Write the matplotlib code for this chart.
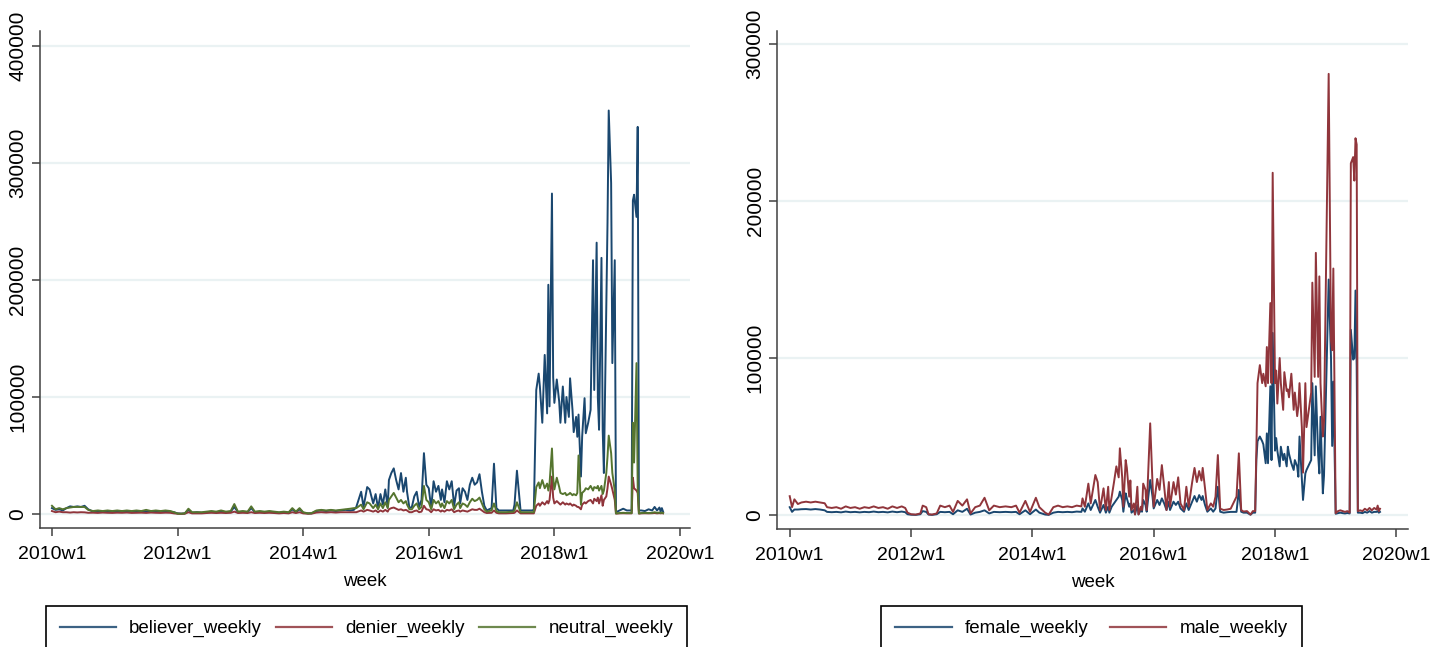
"""
Weekly tweet counts, 2010-2019: by stance (left) and by gender (right).
Stata-style twoway line charts, saved as out.png.
"""

import numpy as np
import matplotlib
matplotlib.use("Agg")
import matplotlib.pyplot as plt
from matplotlib.lines import Line2D

NAVY   = "#1A476F"
MAROON = "#90353B"
GREEN  = "#55752F"
GRID   = "#EAF2F3"
AXIS   = "#404040"

FONT = ["Liberation Sans", "DejaVu Sans"]
TXT  = 13.5   # horizontal text (ticks, axis title, legend)

# week index: 0 = 2010w1, 52 weeks per year (Stata %tw)
WEEK_TICKS  = [0, 104, 208, 312, 416, 520]
WEEK_LABELS = ["2010w1", "2012w1", "2014w1", "2016w1", "2018w1", "2020w1"]

# ---- stance panel (values in thousands) ----
stance_week = [
    0, 3, 6, 9, 12, 15, 18, 21, 24, 27,
    30, 34, 38, 42, 46, 50, 54, 58, 62, 66,
    70, 74, 78, 82, 86, 90, 94, 98, 101, 104,
    107, 110, 113, 116, 120, 124, 128, 132, 136, 140,
    144, 148, 151, 154, 158, 162, 165, 168, 172, 176,
    180, 184, 188, 192, 196, 199, 202, 205, 208, 212,
    215, 219, 223, 227, 231, 235, 239, 243, 247, 250,
    252, 256, 258, 261, 263, 266, 268, 270, 272, 274,
    276, 278, 279, 281, 283, 285, 287, 289, 291, 293,
    294, 296, 298, 300, 302, 304, 306, 308, 310, 312,
    314, 316, 318, 320, 322, 323, 325, 327, 329, 331,
    333, 335, 337, 338, 340, 342, 344, 346, 348, 350,
    352, 354, 356, 358, 360, 364, 366, 368, 370, 376,
    382, 383, 385, 388, 393, 398,
    399, 401, 403, 404, 406, 408, 410, 411, 412, 414,
    415, 416, 418, 420, 421, 423, 425, 426, 428, 429,
    431, 432, 434, 435, 436, 438, 439, 441, 442, 444,
    446, 448, 449, 451, 452, 453, 455, 456, 457, 459,
    460, 461, 463, 464, 466, 467, 470, 473, 476, 480,
    481, 482, 484, 485, 486, 488, 491, 494, 497,
    499, 501, 503, 504, 505, 506,
]
believer = [
    5, 3.5, 4, 3, 5, 6.5, 6, 6.5, 6, 7,
    4, 2, 2.5, 2, 2.5, 2, 2, 2.5, 2, 2,
    2.5, 2, 2, 2.5, 2, 2, 2.5, 2, 1.5, 0.5,
    0.3, 0.5, 3.5, 1, 1.5, 1, 1.5, 2, 1.5, 2,
    1.5, 2, 6, 1.5, 2, 1.5, 5, 1.5, 2, 1.5,
    2, 1.5, 1, 1.5, 1, 4, 1.5, 4, 1, 0.5,
    0.5, 2.5, 3, 2.5, 3, 2.5, 3, 3.5, 3, 3.5,
    6, 19, 6, 23, 21, 9, 17, 5, 17, 8,
    21, 6, 29, 35, 39, 29, 21, 35, 19, 31,
    19, 5, 6, 15, 19, 6, 12, 52, 25, 22,
    5, 28, 19, 24, 12, 21, 10, 28, 21, 28,
    7, 20, 22, 9, 22, 19, 12, 25, 31, 25,
    27, 34, 19, 7, 3, 5, 43, 5, 3, 3,
    3, 8, 37, 3, 3, 3,
    4, 106, 120, 109, 78, 136, 86, 196, 92, 274,
    117, 95, 115, 96, 78, 109, 78, 100, 83, 116,
    89, 70, 83, 66, 85, 32, 66, 99, 69, 78,
    89, 217, 106, 232, 99, 72, 219, 72, 35, 177,
    249, 345, 283, 129, 217, 1.5, 3, 4.5, 3, 3,
    268, 273, 254, 331, 3, 3, 2.5, 4, 3,
    6, 3, 5.5, 2, 5, 2,
]
denier = [
    2.5, 1.5, 2, 1.5, 1.5, 1.2, 1.5, 1.3, 1.5, 1.4,
    1, 1.1, 0.9, 1.2, 1, 0.9, 1.1, 1, 1.2, 0.9,
    1, 1.1, 0.9, 1.2, 1, 0.9, 1.1, 1, 0.5, 0.2,
    0.1, 0.2, 1.5, 0.5, 0.5, 0.5, 0.8, 1, 0.8, 1,
    0.8, 1, 2, 0.8, 1, 0.8, 1.5, 0.8, 1, 0.8,
    1, 0.8, 0.5, 0.8, 0.5, 1.5, 0.8, 1.5, 0.5, 0.2,
    0.3, 1.2, 1.5, 1.2, 1.5, 1.2, 1.5, 1.5, 1.5, 1.5,
    1.5, 3, 2, 3.5, 3, 2, 3, 1.5, 3, 2,
    3.5, 2, 4, 5, 5.5, 4.5, 3.5, 4, 3, 3.5,
    3, 1.5, 1.5, 2.5, 3, 1.5, 2, 7, 4, 3.5,
    1.5, 4, 3, 3.5, 2, 3, 2, 3.5, 3, 4,
    1.5, 2.5, 3, 2, 3, 2.5, 2, 3, 4, 3.5,
    3.5, 4.5, 3, 1.5, 0.8, 1, 3, 1, 0.5, 0.5,
    0.8, 1, 3, 0.5, 0.5, 0.5,
    0.5, 7, 9, 7, 10, 8, 11, 9, 12, 32,
    14, 9, 11, 9, 8, 10, 8, 9, 8, 9,
    7, 8, 7, 6, 6, 4, 8, 10, 9, 11,
    12, 9, 13, 11, 14, 9, 16, 7, 12, 15,
    22, 32, 25, 21, 12, 0.3, 0.5, 0.6, 0.5, 0.5,
    31, 22, 20, 18, 0.3, 0.5, 0.6, 0.5, 0.6,
    0.8, 0.5, 0.7, 0.5, 0.7, 0.5,
]
neutral = [
    7, 4, 5, 4, 5, 5.5, 6, 6, 6, 6,
    3.5, 2.5, 3, 2.5, 3, 2.5, 3, 2.5, 3, 2.5,
    3, 2.5, 3.5, 2.5, 3, 2.5, 3, 2.5, 1.5, 0.3,
    0.2, 0.5, 4.5, 1.5, 1.5, 1.5, 2, 2.5, 2, 3,
    2, 2.5, 8.5, 2, 2.5, 2, 6.5, 2, 2.5, 2,
    2.5, 2, 1.5, 2, 1.5, 5, 2, 5, 1.5, 0.5,
    0.8, 3, 3.5, 3, 3.5, 3, 3.5, 4, 4.5, 5,
    5, 8, 4, 10, 9, 5, 8, 4, 9, 5,
    10, 5, 12, 15, 18, 14, 10, 12, 9, 11,
    8, 4, 4, 7, 9, 4, 6, 24, 12, 10,
    4, 12, 9, 11, 6, 9, 5, 11, 9, 12,
    4, 8, 10, 5, 9, 8, 6, 10, 13, 11,
    12, 14, 9, 4, 2, 3, 9, 2.5, 1.5, 1.5,
    2, 3, 10, 1.5, 1.5, 1.5,
    1.5, 23, 27, 22, 29, 22, 26, 20, 26, 56,
    31, 21, 31, 23, 18, 17, 18, 16, 17, 18,
    16, 17, 16, 18, 50, 8, 18, 20, 22, 21,
    24, 20, 23, 22, 24, 20, 24, 17, 20, 35,
    49, 67, 52, 35, 20, 0.5, 0.8, 1, 0.8, 0.8,
    78, 44, 129, 22, 0.5, 0.8, 1, 0.8, 1,
    1.5, 1, 1.2, 0.8, 1.2, 0.8,
]

# ---- gender panel (values in thousands) ----
gender_week = [
    0, 2, 4, 7, 10, 14, 18, 22, 26, 30,
    32, 36, 40, 44, 48, 52, 56, 60, 64, 68,
    72, 76, 80, 84, 88, 92, 96, 99, 101, 104,
    108, 112, 114, 117, 119, 122, 126, 129, 133, 137,
    140, 144, 148, 152, 155, 159, 163, 167, 171, 175,
    180, 185, 190, 194, 197, 202, 206, 211, 214, 219,
    222, 226, 230, 234, 238, 242, 246, 250,
    251, 253, 256, 258, 262, 264, 266, 269, 271, 273,
    274, 276, 278, 280, 282, 283, 285, 286, 288, 289,
    291, 292, 293, 295, 296, 298, 299, 301, 302, 303,
    305, 306, 309, 311, 312, 315, 317, 319, 321, 323,
    325, 326, 329, 331, 333, 335, 338, 340, 342, 345,
    347, 349, 351, 353, 354, 356, 358, 361, 363, 365,
    367, 369, 372, 375, 378,
    383, 385, 387, 389, 392, 395, 397, 399, 400, 401,
    403, 405, 406, 408, 409, 410, 412, 413, 414, 416,
    417, 418, 420, 421, 423, 424, 426, 427, 428, 430,
    432, 433, 435, 436, 437, 439, 440, 442, 443, 445,
    447, 448, 450, 451, 453, 454, 455, 457, 458, 462,
    464, 465, 466, 468, 470, 472, 474, 476, 478, 480,
    481, 483, 484, 485, 486, 487, 489, 491, 493, 495,
    497, 499, 501, 503, 504, 505, 506,
]
female = [
    5, 2, 3.5, 3.5, 3.7, 3.8, 3.5, 3.8, 3.5, 3,
    2, 1.8, 2, 1.7, 2.2, 1.8, 2, 1.7, 2, 1.8,
    2.2, 1.8, 2, 1.7, 2.2, 1.8, 2.2, 1.8, 0.5, 0.2,
    0.1, 0.5, 2.5, 2, 0.3, 0.1, 0.5, 2, 1.8, 2,
    0.5, 3, 2, 4, 0.3, 1.5, 2, 3, 1, 2,
    1.8, 2, 1.8, 2, 0.5, 3, 0.5, 3.5, 1.5, 0.3,
    0.1, 1.5, 2, 1.8, 2, 1.8, 2.2, 2,
    4.2, 2.1, 7.4, 3.2, 9.6, 5.3, 1.5, 6.4, 1.5, 5.3,
    1.5, 5.3, 7.4, 9.6, 11.7, 14.9, 9.6, 2.1, 13.8, 10.6,
    5.3, 7.4, 1.5, 3.2, 0.5, 6.4, 0.5, 3.2, 2.1, 9.6,
    6.4, 2.1, 22.3, 11.7, 4.2, 9.6, 6.4, 10.6, 7.4, 3.2,
    8.5, 3.2, 8.5, 6.4, 8.5, 4.2, 2.1, 7.4, 3.2, 8.5,
    12.1, 8.5, 12.7, 9.6, 12.1, 6.4, 2.1, 4.2, 2.1, 4.2,
    18, 2.1, 1.5, 1.8, 2,
    2, 16, 2.1, 1.5, 1.5, 0.2, 1.5, 1.5, 35, 47,
    50, 47, 45, 33, 52, 33, 82, 35, 116, 41,
    49, 41, 31, 43.5, 35, 39, 31, 43.5, 39, 33,
    28.7, 35, 31, 24.4, 50, 22.3, 9.6, 26.5, 28.7, 31.8,
    35, 84, 38, 82, 38, 26.5, 62.6, 13.8, 25, 150,
    100, 44, 85, 0.8, 1.2, 1.5, 1.2, 1, 1.3, 1,
    118, 99, 100, 143, 95, 1.5, 1.5, 1.2, 2, 1.5,
    2.5, 1.5, 2, 2, 2.5, 1.5, 2,
]
male = [
    12, 5, 10, 7, 8, 8.5, 8, 8.5, 8, 7.5,
    5, 4.5, 5, 4, 5.5, 4.5, 5, 4, 5, 4.5,
    5.5, 4.5, 5, 4, 5.5, 4.5, 5.5, 4.5, 1.5, 0.5,
    0.3, 1, 6, 5, 0.5, 0.3, 1, 6, 5, 6,
    2, 9, 6, 10, 1, 5, 6, 11, 3, 6,
    5, 5.5, 5, 6, 1.5, 9, 2, 11, 5, 1.5,
    0.3, 5, 6, 5, 5.5, 5, 6, 5.5,
    10.6, 5.3, 20, 7.4, 25.5, 21, 3.2, 17, 3.2, 18,
    3.2, 11.7, 21, 31, 24, 42.5, 24, 5.3, 35, 30,
    11.7, 22, 3.2, 7.4, 0.3, 18, 0.3, 5.3, 3.2, 20,
    16, 3.2, 58.4, 20, 5.3, 23, 16, 31.8, 18, 3.2,
    21, 5.3, 21, 13, 24, 7.4, 3.2, 18, 5.3, 21,
    30, 21, 28, 22, 30, 17, 3.2, 7.4, 5.3, 11.7,
    38.2, 4, 3.2, 3.5, 4,
    11.7, 39.3, 3.2, 2.2, 2.5, 0.3, 2.5, 2.5, 41, 84,
    95.5, 84, 90, 82, 107, 84, 135, 84, 218, 84,
    92, 71, 100, 84, 67, 91, 79, 80, 75, 90,
    67, 78, 63, 69, 84, 56, 27, 84, 56, 67,
    78, 148, 88, 167, 88, 152, 84, 50, 60, 281,
    111, 105, 157, 1.2, 2.5, 3, 2.5, 2, 2.5, 1.5,
    224, 228, 213, 240, 236, 2.5, 3, 2.5, 4, 3,
    4.5, 3, 4.5, 3.5, 6, 2.5, 4,
]

for s in (believer, denier, neutral):
    assert len(s) == len(stance_week)
for s in (female, male):
    assert len(s) == len(gender_week)

W, H = 1443, 647


def frac_box(x0, y_top, x1, y_bot):
    """Pixel box (origin top-left) -> figure fraction [l, b, w, h]."""
    return [x0 / W, 1 - y_bot / H, (x1 - x0) / W, (y_bot - y_top) / H]


def style_axes(ax, yticks):
    ax.spines["top"].set_visible(False)
    ax.spines["right"].set_visible(False)
    for side in ("left", "bottom"):
        ax.spines[side].set_color(AXIS)
        ax.spines[side].set_linewidth(1.1)
    ax.set_axisbelow(True)
    ax.yaxis.grid(True, color=GRID, linewidth=1.6)
    ax.xaxis.grid(False)

    ax.set_xticks(WEEK_TICKS)
    ax.set_xticklabels(WEEK_LABELS, family=FONT, fontsize=14)
    ax.set_yticks(yticks)
    ax.set_yticklabels([str(v) for v in yticks], family=FONT,
                       fontsize=15, rotation=90, va="center")
    ax.tick_params(axis="both", direction="out", length=6, width=1.1,
                   color=AXIS, labelcolor="black")
    ax.tick_params(axis="x", pad=7)
    ax.tick_params(axis="y", pad=3)
    ax.set_xlabel("week", family=FONT, fontsize=TXT, labelpad=7)


def add_legend(fig, handles, labels, cx, colspacing):
    leg = fig.legend(handles, labels, loc="upper center",
                     bbox_to_anchor=(cx / W, 1 - 606 / H),
                     ncol=len(labels), frameon=True, fancybox=False,
                     framealpha=1, edgecolor="black",
                     prop={"family": FONT, "size": TXT},
                     borderpad=0.75, handlelength=3.0, handletextpad=0.7,
                     columnspacing=colspacing, borderaxespad=0)
    leg.get_frame().set_linewidth(1.2)
    return leg


fig = plt.figure(figsize=(W / 100, H / 100), dpi=100)
fig.patch.set_facecolor("white")

# left: believer / denier / neutral
ax1 = fig.add_axes(frac_box(40, 31, 690, 528))
wk = np.array(stance_week)
ax1.plot(wk, np.array(believer) * 1000, color=NAVY, lw=1.4)
ax1.plot(wk, np.array(denier) * 1000, color=MAROON, lw=1.4)
ax1.plot(wk, np.array(neutral) * 1000, color=GREEN, lw=1.4)
ax1.set_xlim(-9.9, 528.3)
ax1.set_ylim(-12000, 413000)
style_axes(ax1, [0, 100000, 200000, 300000, 400000])

# right: female / male
ax2 = fig.add_axes(frac_box(777, 31, 1408, 529))
wk = np.array(gender_week)
ax2.plot(wk, np.array(female) * 1000, color=NAVY, lw=1.4)
ax2.plot(wk, np.array(male) * 1000, color=MAROON, lw=1.4)
ax2.set_xlim(-10.9, 530.0)
ax2.set_ylim(-8900, 308300)
style_axes(ax2, [0, 100000, 200000, 300000])

h = lambda c: Line2D([], [], color=c, lw=1.6, alpha=0.85)
add_legend(fig, [h(NAVY), h(MAROON), h(GREEN)],
           ["believer_weekly", "denier_weekly", "neutral_weekly"], 366.5, 0.75)
add_legend(fig, [h(NAVY), h(MAROON)],
           ["female_weekly", "male_weekly"], 1091.5, 1.15)

fig.savefig("out.png", dpi=100, facecolor="white")
